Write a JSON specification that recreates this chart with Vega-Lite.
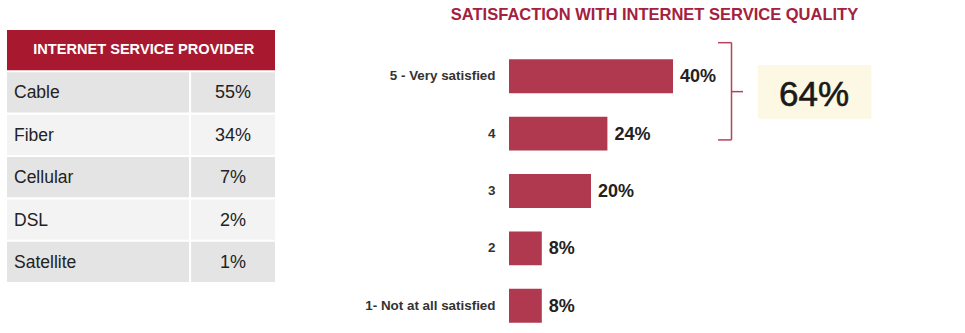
{
  "$schema": "https://vega.github.io/schema/vega-lite/v6.json",
  "padding": {"left": 7, "top": 6, "right": 0, "bottom": 0},
  "bounds": "flush",
  "spacing": 234,
  "background": "white",
  "config": {"view": {"stroke": null}, "font": "Liberation Sans"},
  "hconcat": [
    {
      "width": 268,
      "height": 252,
      "data": {"values": [
        {"provider": "Cable", "share": 0.55},
        {"provider": "Fiber", "share": 0.34},
        {"provider": "Cellular", "share": 0.07},
        {"provider": "DSL", "share": 0.02},
        {"provider": "Satellite", "share": 0.01}
      ]},
      "encoding": {
        "y": {"field": "provider", "type": "nominal", "axis": null,
          "scale": {"domain": ["INTERNET SERVICE PROVIDER", "Cable", "Fiber", "Cellular", "DSL", "Satellite"], "paddingInner": 0.05, "paddingOuter": 0}}
      },
      "layer": [
        {
          "data": {"values": [{"provider": "INTERNET SERVICE PROVIDER"}]},
          "mark": {"type": "rect", "color": "#a8192f"},
          "encoding": {
            "x": {"datum": 0, "type": "quantitative", "scale": {"domain": [0, 1]}, "axis": null},
            "x2": {"datum": 1}
          }
        },
        {
          "data": {"values": [{"provider": "INTERNET SERVICE PROVIDER"}]},
          "mark": {"type": "text", "color": "white", "fontWeight": "bold", "fontSize": 14.6, "align": "center", "baseline": "middle"},
          "encoding": {
            "x": {"datum": 0.51, "type": "quantitative"},
            "text": {"field": "provider"}
          }
        },
        {
          "mark": {"type": "rect"},
          "encoding": {
            "x": {"datum": 0, "type": "quantitative"},
            "x2": {"datum": 0.679},
            "color": {"field": "provider", "type": "nominal", "legend": null,
              "scale": {"domain": ["Cable", "Fiber", "Cellular", "DSL", "Satellite"], "range": ["#e4e4e4", "#f3f3f3", "#e4e4e4", "#f3f3f3", "#e4e4e4"]}}
          }
        },
        {
          "mark": {"type": "rect"},
          "encoding": {
            "x": {"datum": 0.687, "type": "quantitative"},
            "x2": {"datum": 1},
            "color": {"field": "provider", "type": "nominal", "legend": null}
          }
        },
        {
          "mark": {"type": "text", "align": "left", "baseline": "middle", "dx": 7, "dy": 1, "fontSize": 17.5, "color": "#222222"},
          "encoding": {
            "x": {"datum": 0, "type": "quantitative"},
            "text": {"field": "provider"}
          }
        },
        {
          "mark": {"type": "text", "align": "center", "baseline": "middle", "dy": 1, "fontSize": 18, "color": "#222222"},
          "encoding": {
            "x": {"datum": 0.843, "type": "quantitative"},
            "text": {"field": "share", "type": "quantitative", "format": ".0%"}
          }
        }
      ]
    },
    {
      "width": 369,
      "height": 322,
      "title": {"text": "SATISFACTION WITH INTERNET SERVICE QUALITY", "color": "#a4203e", "fontSize": 16.5, "fontWeight": "bold", "anchor": "middle", "frame": "group", "dx": -39, "offset": 7},
      "data": {"values": [
        {"rating": "5 - Very satisfied", "pct": 0.40},
        {"rating": "4", "pct": 0.24},
        {"rating": "3", "pct": 0.20},
        {"rating": "2", "pct": 0.08},
        {"rating": "1- Not at all satisfied", "pct": 0.08}
      ]},
      "layer": [
        {
          "mark": {"type": "bar", "color": "#b0384f"},
          "encoding": {
            "y": {"field": "rating", "type": "nominal", "sort": null, "title": null,
              "scale": {"paddingInner": 0.408, "paddingOuter": 0.51},
              "axis": {"domain": false, "ticks": false, "labelPadding": 14, "labelFontSize": 13.4, "labelFontWeight": "bold", "labelColor": "#333333"}},
            "x": {"field": "pct", "type": "quantitative", "axis": null, "scale": {"domain": [0, 0.9]}}
          }
        },
        {
          "mark": {"type": "text", "align": "left", "baseline": "middle", "dx": 7, "dy": 1, "fontSize": 18, "fontWeight": "bold", "color": "#222222"},
          "encoding": {
            "y": {"field": "rating", "type": "nominal", "sort": null},
            "x": {"field": "pct", "type": "quantitative"},
            "text": {"field": "pct", "type": "quantitative", "format": ".0%"}
          }
        },
        {
          "data": {"values": [{"group": "Top 2", "pct": 0.64}]},
          "mark": {"type": "rule", "color": "#b5415d", "strokeWidth": 1.5},
          "encoding": {
            "x": {"datum": 0.5427, "type": "quantitative"},
            "y": {"datum": "5 - Very satisfied", "bandPosition": -0.488},
            "y2": {"datum": "4", "bandPosition": 0.685}
          }
        },
        {
          "data": {"values": [{"group": "Top 2", "pct": 0.64}]},
          "mark": {"type": "rule", "color": "#b5415d", "strokeWidth": 1.5},
          "encoding": {
            "x": {"datum": 0.5098, "type": "quantitative"},
            "x2": {"datum": 0.5427},
            "y": {"datum": "5 - Very satisfied", "bandPosition": -0.488}
          }
        },
        {
          "data": {"values": [{"group": "Top 2", "pct": 0.64}]},
          "mark": {"type": "rule", "color": "#b5415d", "strokeWidth": 1.5},
          "encoding": {
            "x": {"datum": 0.5098, "type": "quantitative"},
            "x2": {"datum": 0.5427},
            "y": {"datum": "4", "bandPosition": 0.685}
          }
        },
        {
          "data": {"values": [{"group": "Top 2", "pct": 0.64}]},
          "mark": {"type": "rule", "color": "#b5415d", "strokeWidth": 1.5},
          "encoding": {
            "x": {"datum": 0.5427, "type": "quantitative"},
            "x2": {"datum": 0.5707},
            "y": {"datum": "5 - Very satisfied", "bandPosition": 0.953}
          }
        },
        {
          "data": {"values": [{"group": "Top 2", "pct": 0.64}]},
          "mark": {"type": "rect", "color": "#fdf8e3"},
          "encoding": {
            "x": {"datum": 0.607, "type": "quantitative"},
            "x2": {"datum": 0.884},
            "y": {"datum": "5 - Very satisfied", "bandPosition": 0.168},
            "y2": {"datum": "4", "bandPosition": 0.059}
          }
        },
        {
          "data": {"values": [{"group": "Top 2", "pct": 0.64}]},
          "mark": {"type": "text", "align": "center", "baseline": "middle", "fontSize": 35, "color": "#1a1a1a", "stroke": "#1a1a1a", "strokeWidth": 0.6},
          "encoding": {
            "x": {"datum": 0.744, "type": "quantitative"},
            "y": {"datum": "5 - Very satisfied", "bandPosition": 1.04},
            "text": {"field": "pct", "type": "quantitative", "format": ".0%"}
          }
        }
      ]
    }
  ]
}
